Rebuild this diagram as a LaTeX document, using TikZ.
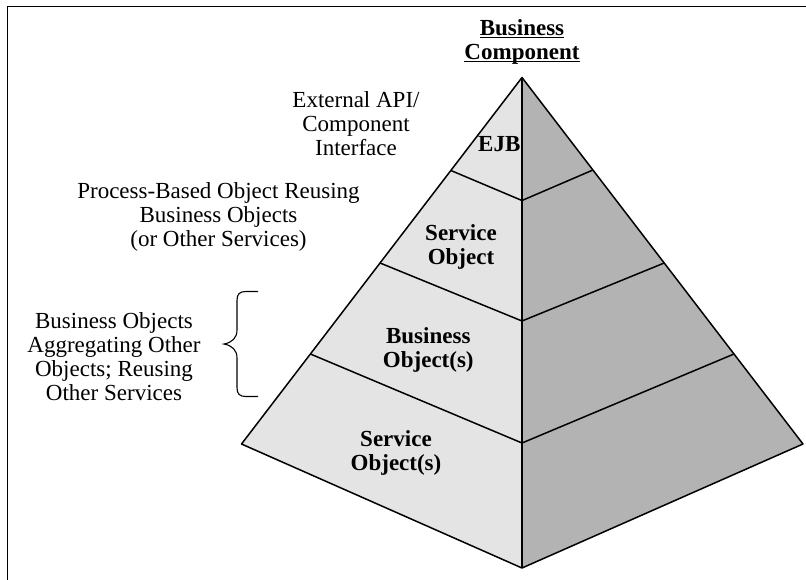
\documentclass[tikz,border=0pt]{standalone}
\usepackage{fontspec}
\setmainfont{Liberation Serif}
\usetikzlibrary{calc}
\definecolor{facelight}{HTML}{E4E4E4}
\definecolor{facedark}{HTML}{B3B3B3}
\newcommand{\myul}[1]{\setbox0\hbox{#1}\rlap{\rule[-2.6pt]{\wd0}{1.1pt}}\box0}
\begin{document}
\begin{tikzpicture}[x=1pt,y=-1pt,
  lbl/.style={align=center,inner sep=0pt,font=\fontsize{23}{24}\selectfont},
  blbl/.style={align=center,inner sep=0pt,font=\fontsize{23}{24}\selectfont\bfseries},
  edgeline/.style={line width=1.5pt,line join=round},
  frameline/.style={line width=1.8pt},
  braceline/.style={line width=1.1pt}]
\useasboundingbox (0,0) rectangle (806,579);
% frame (top and left sides visible)
\draw[frameline] (815,6.5) -- (7.5,6.5) -- (7.5,590);
% pyramid corners
\coordinate (apex) at (522,77.5);
\coordinate (L) at (241.5,444);
\coordinate (R) at (803,444);
\coordinate (B) at (522,568);
\fill[facelight] (apex) -- (L) -- (B) -- cycle;
\fill[facedark] (apex) -- (R) -- (B) -- cycle;
% divider points
\coordinate (l1) at ($(apex)!0.2537!(L)$);
\coordinate (r1) at ($(apex)!0.2524!(R)$);
\coordinate (c1) at (522,200.5);
\coordinate (l2) at ($(apex)!0.5061!(L)$);
\coordinate (r2) at ($(apex)!0.5061!(R)$);
\coordinate (c2) at (522,321);
\coordinate (l3) at ($(apex)!0.7544!(L)$);
\coordinate (r3) at ($(apex)!0.7544!(R)$);
\coordinate (c3) at (522,443);
\draw[edgeline] (l1) -- (c1) -- (r1);
\draw[edgeline] (l2) -- (c2) -- (r2);
\draw[edgeline] (l3) -- (c3) -- (r3);
\draw[edgeline] (apex) -- (L) -- (B) -- (R) -- cycle;
\draw[edgeline] (apex) -- (B);
% brace
\coordinate (btop) at (258,291.5);
\coordinate (bbot) at (258,396.5);
\coordinate (btip) at (224,344);
\draw[braceline] (btop) -- (246,291.5) .. controls (239.5,291.5) and (237,294) .. (237,300.5)
  -- (237,330) .. controls (237,338) and (232,342.5) .. (btip)
  .. controls (232,345.5) and (237,350) .. (237,358)
  -- (237,387.5) .. controls (237,394) and (239.5,396.5) .. (246,396.5) -- (bbot);
% texts
\node[blbl] (head) at (522,42.3) {\myul{Business}\\\myul{Component}};
\node[lbl] (ext) at (356,124) {External API/\\Component\\Interface};
\node[blbl] (ejb) at (499.3,144.2) {EJB};
\node[lbl] (proc) at (218.5,217) {Process-Based Object Reusing\\Business Objects\\(or Other Services)};
\node[blbl] (svc1) at (461,246.7) {Service\\Object};
\node[blbl] (bus) at (428.3,350) {Business\\Object(s)};
\node[blbl] (svc2) at (396,453.3) {Service\\Object(s)};
\node[lbl] (aggr) at (114,357) {Business Objects\\Aggregating Other\\Objects; Reusing\\Other Services};
\end{tikzpicture}
\end{document}
